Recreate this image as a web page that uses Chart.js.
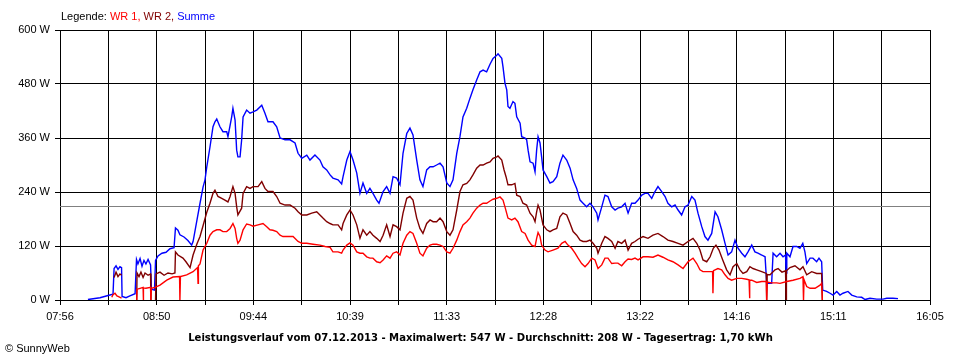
<!DOCTYPE html>
<html><head><meta charset="utf-8">
<script src="https://cdn.jsdelivr.net/npm/chart.js@4.4.1/dist/chart.umd.min.js"></script>
<style>html,body{margin:0;padding:0;background:#fff;}#wrap{width:960px;height:360px;position:relative}</style>
</head><body><div id="wrap"><canvas id="c" width="960" height="360"></canvas></div>
<script>
// ---- axis / labels ----
const xStart = "07:56", xEnd = "16:05";
const tickLabels = ["07:56","08:50","09:44","10:39","11:33","12:28","13:22","14:16","15:11","16:05"];
const yMax = 600, yStep = 120;
const avgWatt = 208;
const legendParts = [["Legende: ","#000000"],["WR 1, ","#ff0000"],["WR 2, ","#800000"],["Summe","#0000ff"]];
const titleText = "Leistungsverlauf vom 07.12.2013 - Maximalwert: 547 W - Durchschnitt: 208 W - Tagesertrag: 1,70 kWh";
const copyText = "\u00A9 SunnyWeb";

// ---- series (time in minutes since midnight, power in W) ----
const sumT = [491.7,498.5,503.0,505.8,506.4,507.5,508.6,509.7,510.6,510.9,513.1,515.3,518.2,519.0,519.8,521.0,522.1,523.2,524.3,525.5,526.9,527.4,529.1,529.7,531.1,533.3,535.6,537.8,540.1,540.9,542.3,543.4,545.7,547.9,550.0,550.8,553.0,554.7,556.4,557.5,558.5,560.3,562.0,563.1,564.1,565.9,567.6,569.7,570.4,572.5,573.2,574.4,575.3,576.0,577.2,578.1,578.9,580.9,582.8,584.5,586.6,589.4,591.2,592.9,595.7,597.8,599.7,602.5,605.3,608.1,609.8,611.9,614.7,616.5,619.3,622.1,623.8,625.9,627.8,629.4,632.3,634.3,635.1,637.2,639.0,640.7,642.8,644.6,646.3,648.4,650.2,651.9,654.0,655.3,657.6,659.6,661.5,663.2,665.2,667.1,668.8,670.9,672.7,674.4,676.5,678.3,680.0,682.1,684.0,685.7,687.7,689.6,691.3,693.4,695.2,696.9,699.0,700.8,702.5,704.6,706.4,708.1,710.2,712.1,713.8,715.8,717.7,719.4,721.5,722.2,724.3,725.0,726.1,727.1,727.8,728.9,730.6,731.7,732.7,734.6,735.5,737.4,738.3,739.1,740.2,741.9,743.0,743.9,744.7,745.8,746.7,747.5,749.6,751.4,753.1,755.2,757.0,758.7,760.8,762.7,764.4,766.4,768.3,770.0,772.0,773.9,775.6,777.7,778.4,780.5,782.3,784.0,786.1,788.0,789.6,791.7,793.6,795.3,797.3,799.2,800.9,803.0,804.8,806.5,808.6,810.4,812.1,814.2,816.1,817.7,819.8,821.7,823.4,825.4,827.3,829.0,831.1,832.9,834.6,836.7,838.5,840.2,842.3,844.2,845.8,847.9,849.8,851.5,853.5,855.4,857.1,859.2,861.0,862.7,864.8,866.6,868.3,870.4,872.3,873.2,876.0,876.8,878.8,880.7,882.4,883.8,884.1,884.5,886.3,888.0,890.1,891.9,893.5,894.7,895.7,897.6,899.2,901.3,902.6,904.1,904.7,906.9,908.8,910.5,912.6,914.4,916.1,918.9,921.0,923.8,926.6,928.5,931.3,935.0,938.6,940.7,944.2,947.0];
const sumW = [1,5,10,13,70,76,68,74,72,8,5,9,14,90,80,92,75,88,80,90,78,24,22,88,98,104,106,114,116,160,155,145,140,132,122,130,178,215,251,267,296,340,385,396,402,385,374,374,363,407,426,400,333,318,318,356,407,422,415,418,422,433,415,396,396,385,360,356,356,349,326,315,322,311,322,311,296,289,278,271,267,258,274,311,330,311,282,237,260,237,248,237,222,215,241,252,237,274,271,256,326,370,382,367,311,267,252,289,296,296,300,304,296,260,252,267,326,363,407,426,448,467,489,507,511,507,524,537,544,547,537,518,482,467,430,426,441,437,407,393,363,360,356,333,307,304,285,333,363,349,318,289,274,260,263,274,304,322,311,293,267,248,222,215,207,215,207,193,178,207,233,230,207,200,204,207,215,193,215,215,222,233,237,237,226,241,252,241,230,215,207,211,200,189,207,211,230,222,193,163,141,133,148,196,185,156,126,100,107,133,115,104,96,107,122,107,104,100,96,37,37,104,96,104,96,100,60,104,96,119,119,115,126,107,81,93,93,85,93,85,22,19,15,11,19,11,15,19,11,7,6,1,4,2,2,4,4,3];

const wr1T = [505.1,505.8,506.9,508.0,509.2,510.6,515.0,519.1,519.3,521.0,522.7,522.8,523.0,524.3,526.9,527.1,527.4,529.4,532.2,536.0,539.5,543.2,543.4,543.7,547.2,550.8,553.3,553.6,553.8,554.7,556.4,558.5,560.3,562.0,564.1,565.9,567.6,569.7,571.6,573.2,574.4,575.3,576.0,577.2,578.9,580.9,582.8,584.5,587.3,590.1,592.2,594.0,595.7,597.8,599.7,601.3,604.2,607.0,609.8,611.9,614.7,618.2,622.1,625.0,627.8,629.4,632.3,634.3,635.1,637.2,639.0,640.7,642.8,644.6,646.3,648.4,650.2,651.9,654.0,655.9,657.6,659.6,661.5,663.2,665.2,667.1,668.8,670.9,672.7,674.4,676.5,678.3,680.0,682.1,684.0,685.7,687.7,689.6,691.3,693.4,695.2,696.9,699.0,700.8,702.5,704.6,706.4,708.1,710.2,712.1,713.8,715.8,717.7,719.4,721.5,723.3,725.0,726.1,727.8,729.9,731.7,733.4,735.5,737.4,739.1,741.1,743.0,743.9,744.7,745.8,746.7,748.6,750.3,753.1,755.9,758.0,759.9,761.5,763.6,765.5,767.2,769.2,771.1,772.8,774.9,776.7,778.4,780.5,782.3,784.0,786.1,788.0,789.6,791.7,793.6,795.3,797.3,799.2,800.9,803.7,806.5,809.3,812.1,814.9,817.7,820.5,823.4,826.2,829.0,831.8,833.9,835.7,837.4,839.5,841.4,842.8,843.0,843.3,844.2,845.8,847.9,849.8,851.5,853.5,856.4,859.2,862.0,863.3,863.5,863.8,864.8,867.6,870.4,873.0,873.2,873.5,876.0,878.8,880.7,884.5,888.0,891.9,893.6,893.9,894.2,895.7,897.6,900.4,903.2,904.1,904.5];
const wr1W = [6,12,15,9,7,4,null,0,24,26,28,0,27,26,28,0,26,28,33,44,51,52,0,52,56,63,72,37,76,80,111,126,144,152,156,156,152,152,159,170,159,137,126,133,156,169,167,164,167,170,163,156,155,152,144,141,141,141,130,126,126,124,122,119,117,107,107,104,111,122,127,122,107,104,104,96,93,93,85,83,89,98,93,104,107,100,126,144,152,148,126,104,98,115,122,124,124,122,119,107,104,115,133,152,167,174,182,193,204,211,215,215,220,224,226,229,222,207,182,178,182,174,152,148,133,122,119,137,150,141,122,111,107,111,115,126,130,122,115,104,93,81,74,81,93,89,70,78,93,93,81,82,82,76,85,91,90,93,89,96,96,95,100,95,89,85,78,70,85,93,81,67,63,63,63,63,15,65,67,70,67,56,48,44,48,48,46,45,4,44,44,39,41,41,0,40,38,38,37,41,44,48,52,0,45,30,26,26,33,37,0];

const wr2T = [506.4,507.5,508.6,509.7,510.6,515.0,519.1,519.3,520.4,521.5,522.7,523.8,525.5,526.9,527.1,528.5,529.7,530.0,532.2,534.5,536.7,539.0,540.6,540.9,542.3,545.1,546.8,549.1,550.8,553.0,554.7,556.4,558.5,560.3,562.0,563.1,564.8,566.9,568.7,570.4,571.6,573.2,574.4,575.3,576.0,578.1,578.9,580.9,582.8,584.5,587.3,589.4,591.2,592.9,595.7,597.8,599.7,602.5,605.3,608.1,609.8,611.9,614.7,617.5,620.3,622.1,623.8,625.9,627.8,629.4,632.3,634.3,635.1,637.2,639.0,640.7,642.8,644.6,646.3,648.4,650.2,651.9,654.0,655.9,657.6,659.6,661.5,663.2,665.2,667.1,668.8,670.9,672.7,674.4,676.5,678.3,680.0,682.1,684.0,685.7,687.7,689.6,691.3,693.4,695.2,696.9,699.0,700.8,702.5,704.6,706.4,708.1,710.2,712.1,713.8,715.8,717.7,719.4,721.5,722.2,724.3,725.6,726.7,727.8,729.9,731.7,732.7,734.6,736.2,738.3,740.2,741.9,743.0,743.9,744.7,745.8,747.5,749.6,751.4,753.1,755.2,757.0,758.7,760.8,762.7,764.4,766.4,768.3,770.0,772.0,773.9,775.6,777.7,778.4,780.5,782.3,784.0,786.1,788.0,789.6,791.7,793.6,795.3,797.3,799.2,800.9,803.7,806.5,809.3,812.1,814.9,817.7,820.5,823.4,826.2,829.0,831.8,833.9,835.7,837.4,839.5,841.4,843.2,844.7,846.4,848.5,850.7,852.6,854.3,856.4,858.2,859.9,862.0,863.8,865.5,867.6,870.4,873.0,873.2,873.5,875.1,877.9,879.6,881.8,883.8,884.1,884.3,886.3,889.1,891.9,893.6,895.7,898.5,901.3,904.1,904.5];
const wr2W = [50,62,52,58,55,null,0,60,52,62,50,60,55,58,0,null,0,58,62,55,60,58,60,107,100,93,85,72,100,125,141,165,195,215,237,244,230,226,222,218,230,252,237,207,189,204,237,252,248,252,252,263,248,241,241,230,215,211,211,204,196,189,189,193,196,189,182,174,170,167,167,156,170,189,200,189,167,137,156,144,152,144,137,130,144,167,141,167,163,156,193,226,230,222,182,159,148,170,178,174,174,182,174,152,144,156,200,241,256,259,267,278,293,300,300,304,307,315,318,320,311,289,274,256,256,259,233,230,215,211,193,185,174,196,211,200,167,156,152,156,159,185,193,189,170,152,144,133,130,130,133,126,115,104,126,141,137,130,115,130,126,133,111,126,130,135,141,137,144,148,141,133,130,126,122,130,137,126,111,89,85,96,115,122,111,89,67,56,74,81,67,59,63,74,70,67,63,59,0,56,56,67,70,62,65,0,65,72,76,67,74,56,63,59,59,0];

function toMin(s){const p=s.split(":");return (+p[0])*60+(+p[1]);}
function pts(t,w){return t.map((v,i)=>({x:v,y:w[i]}));}
const xMin = toMin(xStart), xMax = toMin(xEnd);
const gridCount = (tickLabels.length-1)*2;

const textPlugin = {
  id:'texts',
  beforeDatasetsDraw(chart){
    const {ctx, chartArea:a, scales:{y}} = chart;
    const py = Math.round(y.getPixelForValue(avgWatt))+0.5;
    ctx.save(); ctx.strokeStyle='#808080'; ctx.lineWidth=1;
    ctx.beginPath(); ctx.moveTo(a.left,py); ctx.lineTo(a.right,py); ctx.stroke(); ctx.restore();
  },
  afterDraw(chart){
    const ctx = chart.ctx; ctx.save();
    ctx.textBaseline='alphabetic'; ctx.textAlign='left';
    ctx.font = '11px "Liberation Sans", Arial, sans-serif';
    let x = 61;
    legendParts.forEach(([s,c])=>{ctx.fillStyle=c; ctx.fillText(s,x,20); x+=ctx.measureText(s).width;});
    ctx.fillStyle='#000';
    ctx.fillText(copyText,5,352);
    let fs = 12; ctx.font = 'bold '+fs+'px "DejaVu Sans", sans-serif';
    const w = ctx.measureText(titleText).width; fs = fs*585/w;
    ctx.font = 'bold '+fs.toFixed(2)+'px "DejaVu Sans", sans-serif';
    ctx.textAlign='center';
    ctx.fillText(titleText,480.5,341);
    ctx.restore();
  }
};

Chart.defaults.font.family = '"Liberation Sans", Arial, sans-serif';
Chart.defaults.font.size = 11;
Chart.defaults.color = '#000';

new Chart(document.getElementById('c'),{
  type:'line',
  data:{datasets:[
    {label:'WR 1',data:pts(wr1T,wr1W),borderColor:'#ff0000',order:0},
    {label:'WR 2',data:pts(wr2T,wr2W),borderColor:'#800000',order:1},
    {label:'Summe',data:pts(sumT,sumW),borderColor:'#0000ff',order:2}
  ]},
  options:{
    responsive:false, animation:false, devicePixelRatio:1,
    parsing:true, spanGaps:false,
    elements:{point:{radius:0},line:{borderWidth:1.4,tension:0}},
    layout:{padding:{top:30,right:30,left:0,bottom:0}},
    plugins:{legend:{display:false},tooltip:{enabled:false},title:{display:false}},
    scales:{
      x:{type:'linear',min:xMin,max:xMax,
        afterFit(s){s.height=60;},
        afterBuildTicks(s){const t=[];for(let i=0;i<=gridCount;i++){t.push({value:xMin+(xMax-xMin)*i/gridCount});}s.ticks=t;},
        grid:{color:'#000',lineWidth:1,tickLength:5},
        border:{color:'#000',width:1},
        ticks:{autoSkip:false,maxRotation:0,padding:5,color:'#000',callback:(v,i)=> i%2===0?tickLabels[i/2]:''}
      },
      y:{min:0,max:yMax,
        afterFit(s){s.width=60;},
        grid:{color:'#000',lineWidth:1,tickLength:5},
        border:{color:'#000',width:1},
        ticks:{stepSize:yStep,padding:5,color:'#000',callback:v=>v+' W'}
      }
    }
  },
  plugins:[textPlugin]
});
</script></body></html>
